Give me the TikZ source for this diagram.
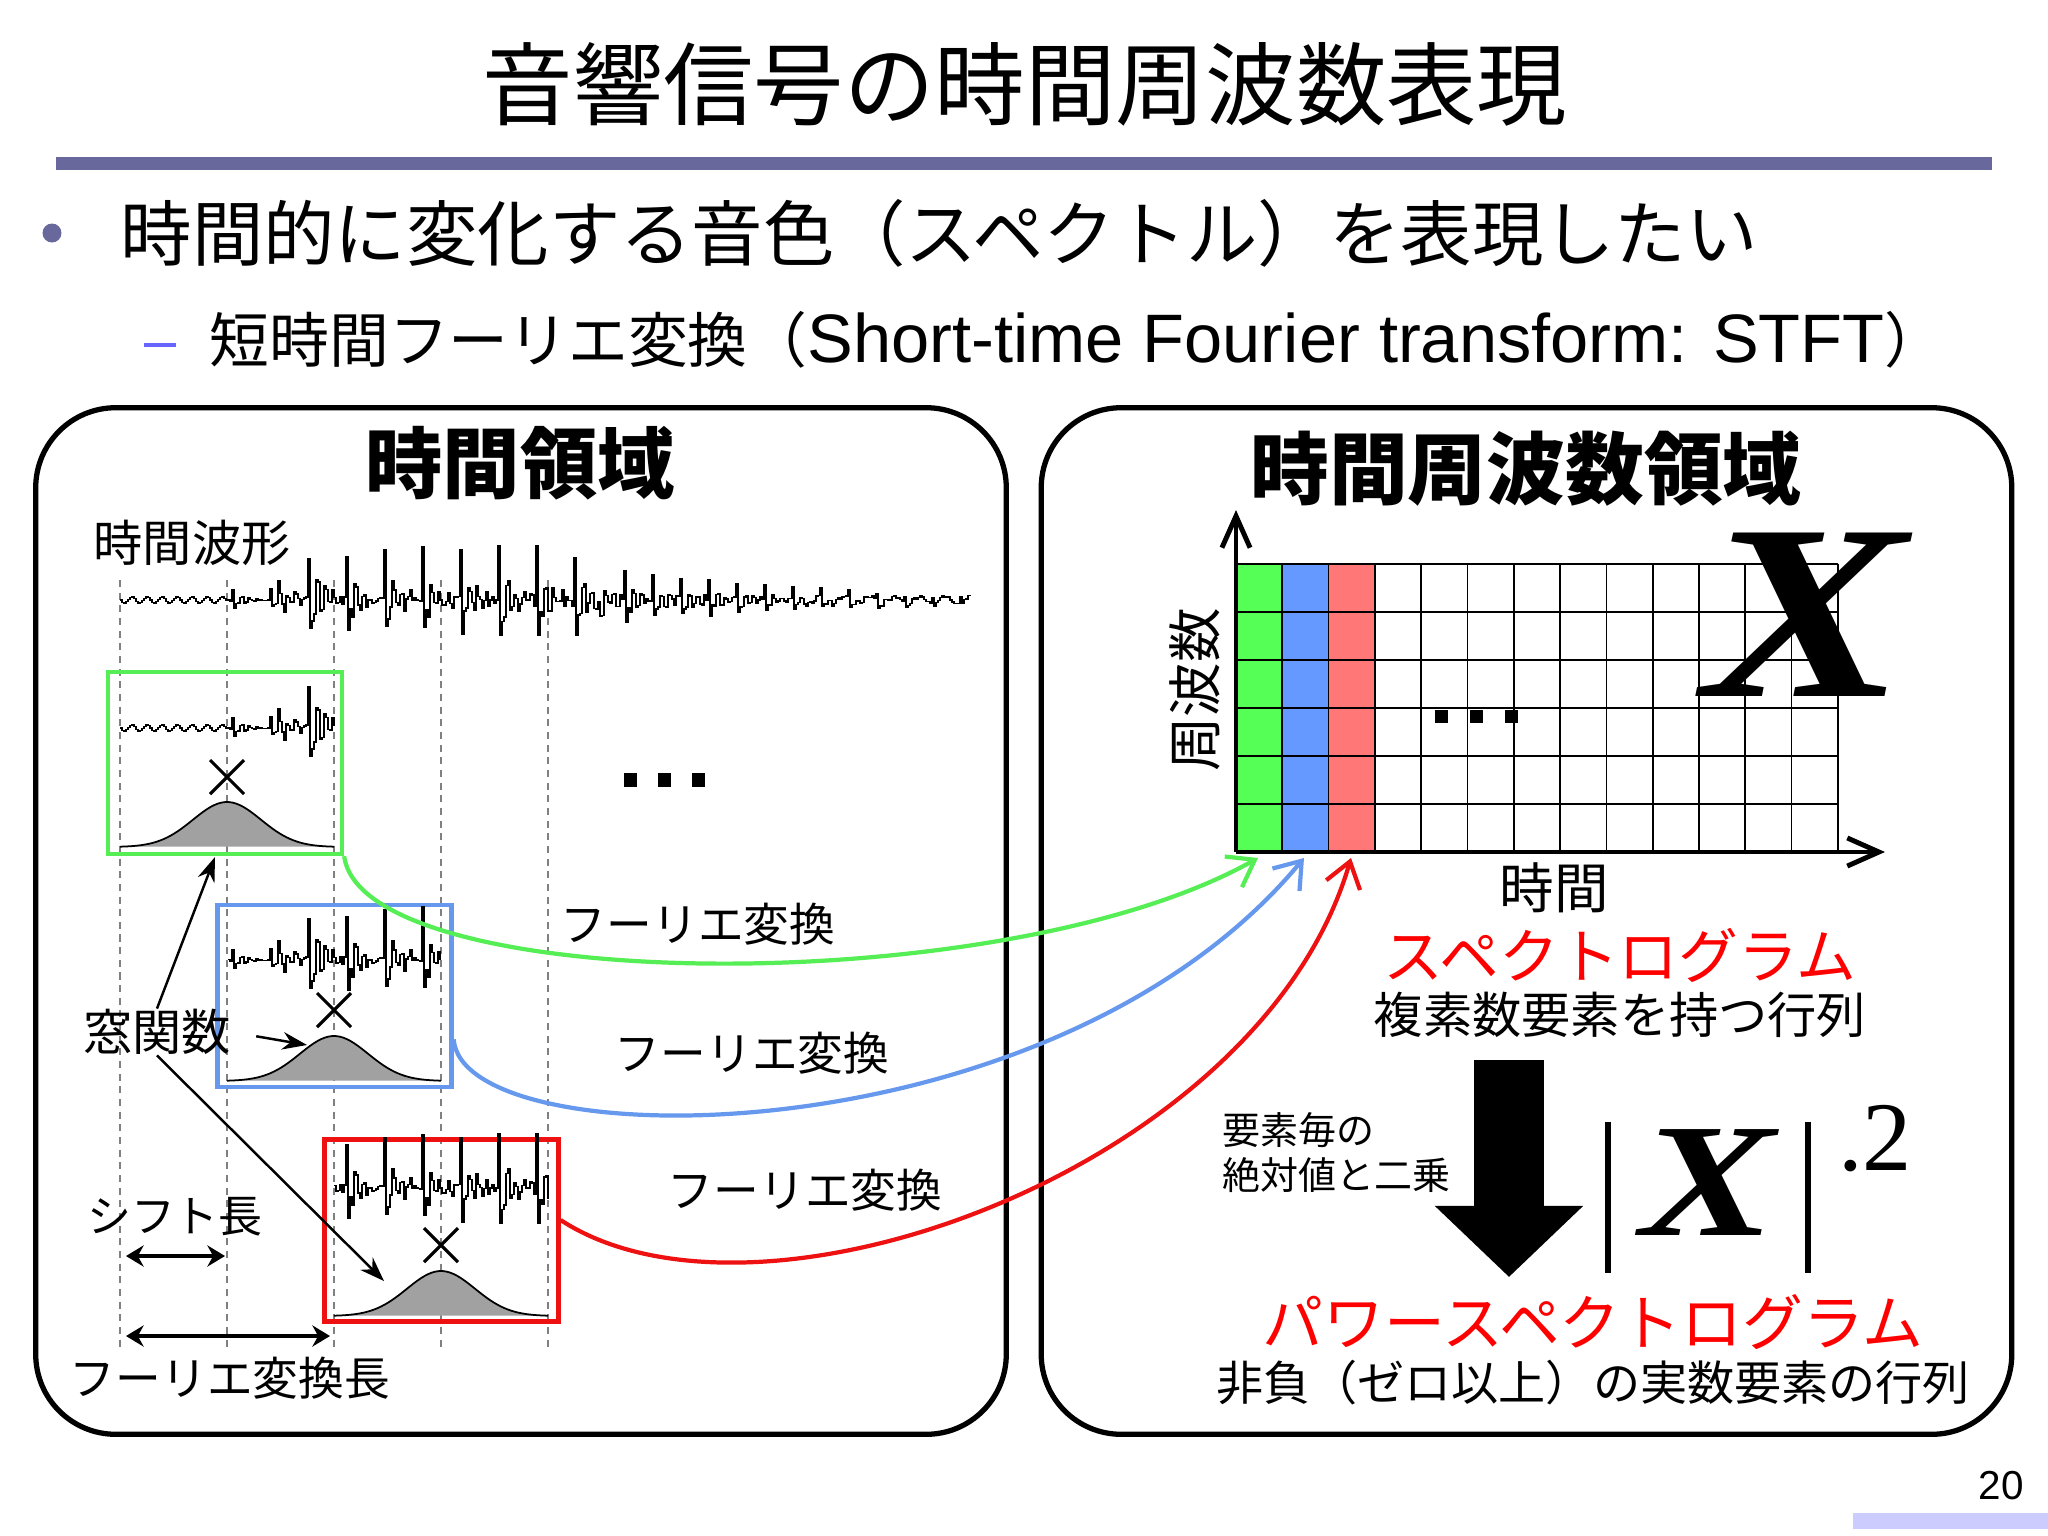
\documentclass[tikz,border=0pt]{standalone}
\usepackage{fontspec}
\setmainfont{Noto Sans CJK JP}
\newfontfamily\latinsans{Liberation Sans}
\newfontfamily\romanfont{Liberation Serif}
\usetikzlibrary{arrows.meta}
\definecolor{barcol}{RGB}{104,104,156}
\definecolor{dashcol}{RGB}{102,102,255}
\definecolor{lavbar}{RGB}{204,204,255}
\definecolor{wingreen}{RGB}{85,238,85}
\definecolor{winblue}{RGB}{102,153,238}
\definecolor{winred}{RGB}{238,17,17}
\definecolor{colgreen}{RGB}{85,255,85}
\definecolor{colblue}{RGB}{102,153,255}
\definecolor{colred}{RGB}{255,119,119}
\newcommand{\setfs}[1]{\fontsize{#1}{#1}\selectfont}
% one piece of the time waveform: from, to, samples, centre line
\newcommand{\wavepart}[4]{\draw[wave] plot[domain=#1:#2, samples=#3] (\x,{#4+wv(\x)});}
% window function: centre, base line
\newcommand{\winfn}[2]{%
  \fill[black!37] plot[domain=#1-107:#1+107, samples=60] (\x,{#2-45*exp(-((\x-#1)/34)*((\x-#1)/34)/2)}) -- cycle;
  \draw[line width=0.5pt] plot[domain=#1-107:#1+107, samples=60] (\x,{#2-45*exp(-((\x-#1)/34)*((\x-#1)/34)/2)});}
\newcommand{\crossmark}[2]{\draw[line width=0.9pt] (#1-17,#2-17) -- (#1+17,#2+17) (#1-17,#2+17) -- (#1+17,#2-17);}
\begin{document}
\begin{tikzpicture}[x=0.01cm, y=-0.01cm,
    declare function={
      wu(\t)=(\t<600)?mod(\t+718,38):mod(\t+1000,28);
      wenv(\t)=(\t<278)?10:((\t<560)?48:48*exp(-(\t-560)/170));
      wosc(\t)=(wu(\t)<1)?-1:((wu(\t)<3)?0.7:(exp(-wu(\t)/14)*((mod(wu(\t),8)<4)?-0.5:0.45)));
      wnoise(\t)=2*frac(abs(sin(7.13*\t))*431.7)-1;
      wv(\t)=(\t<226)?3*sin(24*mod(\t,15)):(wenv(\t)*(wosc(\t)+0.15*wnoise(\t))+((\t>800)?3.5*sin(14.4*mod(\t,25)):0));
    },
    txt/.style={inner sep=0pt},
    panel/.style={draw, line width=1.5pt, rounded corners=0.8cm, minimum width=9.7cm, minimum height=10.26cm, inner sep=0pt},
    winbox/.style={draw, line width=1.2pt, minimum width=2.34cm, minimum height=1.82cm, inner sep=0pt},
    guide/.style={draw=black!50, line width=0.4pt, dash pattern=on 2pt off 1.6pt},
    wave/.style={line width=0.4pt, const plot},
    ftcurve/.style={line width=1.2pt, -{Straight Barb[length=7pt,width=10pt]}},
    ptr/.style={line width=0.7pt, -{Stealth[length=7pt,width=5pt]}},
    lenarrow/.style={line width=1pt, {Stealth[length=5pt,width=6pt]}-{Stealth[length=5pt,width=6pt]}},
    axisline/.style={line width=1.4pt, -{Straight Barb[length=9pt,width=8pt]}}]
  \fill[white] (0,0) rectangle (2048,1536);
  \useasboundingbox (0,0) rectangle (2048,1536);

  % heading
  \node[txt, font=\setfs{25.7}] (title) at (1025,84) {音響信号の時間周波数表現};
  \fill[barcol] (56,157) rectangle (1992,170);
  \fill[barcol] (52,233) circle (2.7pt);
  \node[txt, anchor=west, font=\setfs{20.3}] (bul1) at (120,233) {時間的に変化する音色（スペクトル）を表現したい};
  \draw[dashcol, line width=1.2pt] (144,345) -- (176,345);
  \node[txt, anchor=west, font=\setfs{17}] (bul2) at (209,340)
    {短時間フーリエ変換（{\latinsans\setfs{19.5}Short-time Fourier transform: STFT}）};

  % time domain
  \node[panel] (tpanel) at (521,921) {};
  \node[txt, font=\setfs{22}\bfseries] (tdom) at (520,463) {時間領域};
  \node[txt, font=\setfs{14}] (wlabel) at (192,543) {時間波形};
  \foreach \i in {0,...,4}
    \draw[guide] (120+107*\i,580) -- (120+107*\i,1347);
  \wavepart{120}{970}{426}{600}

  \node[winbox, draw=wingreen] (gbox) at (225,763) {};
  \wavepart{120}{334}{108}{728}
  \crossmark{227}{777}
  \winfn{227}{847}

  \node[winbox, draw=winblue] (bbox) at (334.5,996) {};
  \wavepart{228}{440}{107}{960}
  \crossmark{334}{1010}
  \winfn{334}{1081}

  \node[winbox, draw=winred] (rbox) at (441.5,1230.5) {};
  \wavepart{334}{548}{108}{1188}
  \crossmark{441}{1245}
  \winfn{441}{1316}

  \foreach \dx in {630,664,698}
    \fill (\dx-6.5,773) rectangle (\dx+6.5,787);

  \node[txt, font=\setfs{14}] (winlbl) at (157,1032) {窓関数};
  \coordinate (gtip) at (215,857);
  \coordinate (btip) at (307,1045);
  \coordinate (rtip) at (384,1281);
  \draw[ptr] (winlbl.north) -- (gtip);
  \draw[ptr, shorten <=0.25cm] (winlbl.east) -- (btip);
  \draw[ptr] (winlbl.south) -- (rtip);

  \node[txt, font=\setfs{12.5}] (shiftlbl) at (175,1217) {シフト長};
  \coordinate (sA) at (126,1256);
  \coordinate (sB) at (225,1256);
  \draw[lenarrow] (sA) -- (sB);
  \coordinate (lA) at (126,1336);
  \coordinate (lB) at (330,1336);
  \draw[lenarrow] (lA) -- (lB);
  \node[txt, font=\setfs{13}] (fftlen) at (230,1378) {フーリエ変換長};

  \node[txt, font=\setfs{13}] (ft1) at (698,924) {フーリエ変換};
  \node[txt, font=\setfs{13}] (ft2) at (752,1053) {フーリエ変換};
  \node[txt, font=\setfs{13}] (ft3) at (805,1190) {フーリエ変換};

  % time-frequency domain
  \node[panel] (fpanel) at (1526.5,921) {};
  \node[txt, font=\setfs{22.4}\bfseries] (tfdom) at (1526,469) {時間周波数領域};
  \fill[colgreen] (1236,564) rectangle (1282.3,852);
  \fill[colblue] (1282.3,564) rectangle (1328.6,852);
  \fill[colred] (1328.6,564) rectangle (1374.9,852);
  \foreach \i in {0,...,13}
    \draw[line width=0.5pt] (1236+46.3*\i,564) -- (1236+46.3*\i,852);
  \foreach \j in {0,...,6}
    \draw[line width=0.5pt] (1236,564+48*\j) -- (1838,564+48*\j);
  \foreach \dx in {1441,1476,1511}
    \fill (\dx-6.5,710) rectangle (\dx+6.5,723);
  \coordinate (orig) at (1236,852);
  \coordinate (ftop) at (1236,510);
  \coordinate (tend) at (1885,852);
  \draw[axisline] (orig) -- (ftop);
  \draw[axisline] (orig) -- (tend);
  \node[txt, rotate=90, font=\setfs{15.5}] (freqlbl) at (1195,690) {周波数};
  \node[txt, font=\setfs{15.5}] (timelbl) at (1554,888) {時間};
  \node[txt, font=\romanfont\setfs{71}\bfseries\itshape] (bigX) at (1805,615) {\scalebox{1.22}[1]{X}};

  \coordinate (gcol) at (1258,858);
  \coordinate (bcol) at (1304,858);
  \coordinate (rcol) at (1351,858);
  \draw[ftcurve, wingreen] (gbox.south east) .. controls +(18,138) and +(-258,145) .. (gcol);
  \draw[ftcurve, winblue] (bbox.-20) .. controls +(9,120) and +(-253,305) .. (bcol);
  \draw[ftcurve, winred] (rbox.5) .. controls +(199,130) and +(-90,310) .. (rcol);

  \node[txt, text=red, font=\setfs{17}] (spec) at (1620,955) {スペクトログラム};
  \node[txt, font=\setfs{14}] (specdesc) at (1620,1015) {複素数要素を持つ行列};
  \coordinate (pwtop) at (1509,1060);
  \coordinate (pwtip) at (1509,1277);
  \draw[line width=0.7cm, -{Triangle[length=0.71cm,width=1.44cm]}] (pwtop) -- (pwtip);
  \node[txt, anchor=west, font=\setfs{10.8}] (elemA) at (1222,1130) {要素毎の};
  \node[txt, anchor=west, font=\setfs{10.8}] (elemB) at (1222,1175) {絶対値と二乗};
  \draw[line width=1.5pt] (1608,1122) -- (1608,1273);
  \draw[line width=1.5pt] (1808,1122) -- (1808,1273);
  \node[txt, font=\romanfont\setfs{46}\bfseries\itshape] (absX) at (1708,1183) {\scalebox{1.25}[1]{X}};
  \node[txt, font=\romanfont\setfs{28}] (dottwo) at (1875,1139) {.2};
  \node[txt, text=red, font=\setfs{17.3}] (pspec) at (1593,1322) {パワースペクトログラム};
  \node[txt, font=\setfs{13.4}] (pspecdesc) at (1593,1383) {非負（ゼロ以上）の実数要素の行列};

  % page footer
  \node[txt, font=\latinsans\setfs{11.5}] (pagenum) at (2001,1486) {20};
  \fill[lavbar] (1853,1513) rectangle (2048,1529);
\end{tikzpicture}
\end{document}
